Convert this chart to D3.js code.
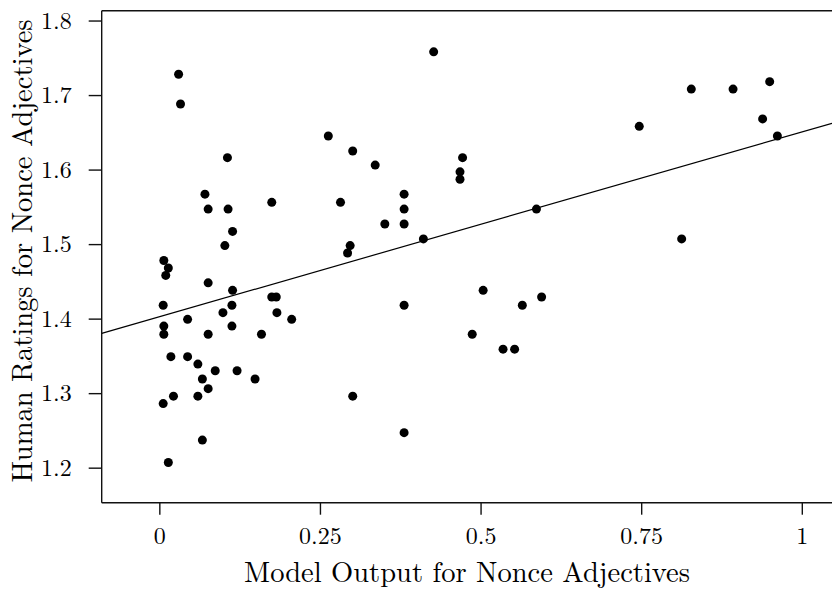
<!DOCTYPE html>
<html>
<head>
<meta charset="utf-8">
<script src="https://cdn.jsdelivr.net/npm/d3@7/dist/d3.min.js"></script>
<style>
  html, body { margin: 0; padding: 0; background: #fff; }
  svg { display: block; }
</style>
</head>
<body>
<svg id="chart" width="832" height="589"></svg>
<script>
// ---- data ----
const modelOutput = [
  0.007, 0.014, 0.010, 0.006, 0.007, 0.007, 0.006, 0.014, 0.018, 0.022,
  0.030, 0.033, 0.044, 0.044, 0.060, 0.060, 0.067, 0.067, 0.071, 0.076,
  0.076, 0.076, 0.076, 0.087, 0.099, 0.102, 0.106, 0.107, 0.114, 0.114,
  0.113, 0.113, 0.121, 0.149, 0.159, 0.175, 0.175, 0.182, 0.183, 0.206,
  0.263, 0.282, 0.293, 0.297, 0.301, 0.301, 0.336, 0.351, 0.381, 0.381,
  0.381, 0.381, 0.381, 0.411, 0.427, 0.472, 0.468, 0.468, 0.487, 0.504,
  0.535, 0.553, 0.565, 0.587, 0.595, 0.747, 0.813, 0.828, 0.893, 0.939,
  0.950, 0.962
];
const humanRatings = [
  1.478, 1.468, 1.458, 1.418, 1.390, 1.379, 1.286, 1.207, 1.349, 1.296,
  1.728, 1.688, 1.399, 1.349, 1.339, 1.296, 1.319, 1.237, 1.567, 1.547,
  1.448, 1.379, 1.306, 1.330, 1.408, 1.498, 1.616, 1.547, 1.517, 1.438,
  1.418, 1.390, 1.330, 1.319, 1.379, 1.556, 1.429, 1.429, 1.408, 1.399,
  1.645, 1.556, 1.488, 1.498, 1.625, 1.296, 1.606, 1.527, 1.567, 1.547,
  1.527, 1.418, 1.247, 1.507, 1.758, 1.616, 1.597, 1.587, 1.379, 1.438,
  1.359, 1.359, 1.418, 1.547, 1.429, 1.658, 1.507, 1.708, 1.708, 1.668,
  1.718, 1.645
];
const fitIntercept = 1.4025;
const fitSlope = 0.248;
const xTicks = [0, 0.25, 0.5, 0.75, 1];
const xTickLabels = ["0", "0.25", "0.5", "0.75", "1"];
const yTicks = [1.2, 1.3, 1.4, 1.5, 1.6, 1.7, 1.8];
const yTickLabels = ["1.2", "1.3", "1.4", "1.5", "1.6", "1.7", "1.8"];
const xDomain = [-0.0897, 1.047];
const yDomain = [1.153, 1.8132];
const xTitle = "Model Output for Nonce Adjectives";
const yTitle = "Human Ratings for Nonce Adjectives";

// ---- layout ----
const svg = d3.select("#chart");
const pLeft = 101.7, pRight = 832, pTop = 10.7, pBottom = 502.7;
const font = "'Latin Modern Roman', 'Liberation Serif', serif";

const x = d3.scaleLinear().domain(xDomain).range([pLeft, pRight]);
const y = d3.scaleLinear().domain(yDomain).range([pBottom, pTop]);

// clip
svg.append("defs").append("clipPath").attr("id", "plot")
  .append("rect").attr("x", pLeft).attr("y", pTop)
  .attr("width", pRight - pLeft).attr("height", pBottom - pTop);

// top frame line
svg.append("line")
  .attr("x1", pLeft).attr("x2", pRight).attr("y1", pTop).attr("y2", pTop)
  .attr("stroke", "#111").attr("stroke-width", 1.4);

// axes
const xAxis = d3.axisBottom(x).tickValues(xTicks)
  .tickFormat((d, i) => xTickLabels[i]).tickSize(12).tickPadding(12).tickSizeOuter(0);
const yAxis = d3.axisLeft(y).tickValues(yTicks)
  .tickFormat((d, i) => yTickLabels[i]).tickSize(13).tickPadding(17).tickSizeOuter(0);

const gx = svg.append("g").attr("transform", `translate(0,${pBottom})`).call(xAxis);
const gy = svg.append("g").attr("transform", `translate(${pLeft},0)`).call(yAxis);
[gx, gy].forEach(g => {
  g.attr("font-family", null).attr("font-size", null);
  g.select(".domain").attr("stroke", "#111").attr("stroke-width", 1.4);
  g.selectAll(".tick line").attr("stroke", "#111").attr("stroke-width", 1.4);
  g.selectAll(".tick text").attr("fill", "#000")
    .style("font-family", font).style("font-size", "24px");
});
gy.select(".domain").attr("d", `M0,${pBottom}V${pTop}`);
gx.select(".domain").attr("d", `M${pLeft},0H${pRight}`);

// regression line
const plot = svg.append("g").attr("clip-path", "url(#plot)");
plot.append("line")
  .attr("x1", x(xDomain[0])).attr("y1", y(fitIntercept + fitSlope * xDomain[0]))
  .attr("x2", x(xDomain[1])).attr("y2", y(fitIntercept + fitSlope * xDomain[1]))
  .attr("stroke", "#000").attr("stroke-width", 1.2);

// points
plot.selectAll("circle").data(modelOutput.map((v, i) => [v, humanRatings[i]]))
  .enter().append("circle")
  .attr("cx", d => x(d[0])).attr("cy", d => y(d[1]))
  .attr("r", 4.5).attr("fill", "#000");

// titles
svg.append("text")
  .attr("x", 467).attr("y", 581.5)
  .attr("text-anchor", "middle")
  .style("font-family", font).style("font-size", "28.5px")
  .text(xTitle);

svg.append("text")
  .attr("transform", `translate(31.5,${251}) rotate(-90)`)
  .attr("text-anchor", "middle")
  .style("font-family", font).style("font-size", "28.5px")
  .text(yTitle);
</script>
</body>
</html>
